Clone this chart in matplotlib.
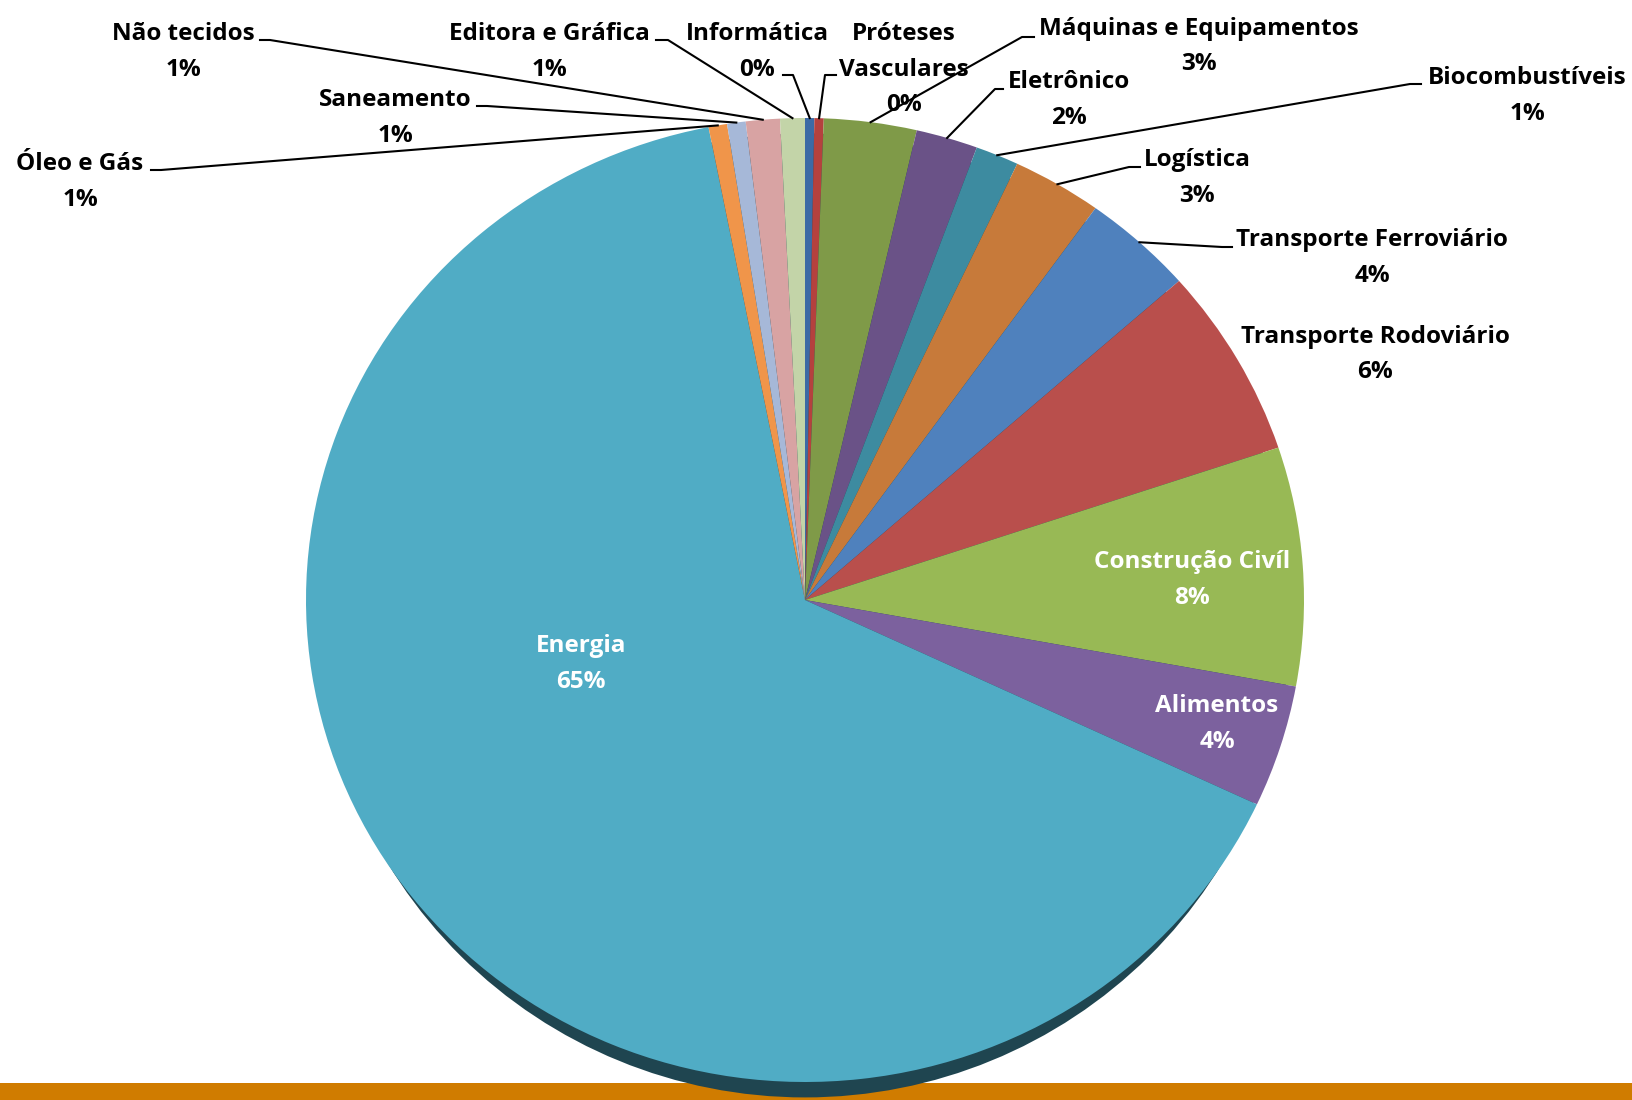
import matplotlib
matplotlib.use('Agg')
import matplotlib.pyplot as plt
import numpy as np
from matplotlib.patches import Ellipse, Rectangle

# sectors, clockwise from the top
sectors = ['Informática', 'Próteses Vasculares', 'Máquinas e Equipamentos', 'Eletrônico',
           'Biocombustíveis', 'Logística', 'Transporte Ferroviário', 'Transporte Rodoviário',
           'Construção Civíl', 'Alimentos', 'Energia', 'Óleo e Gás', 'Saneamento',
           'Não tecidos', 'Editora e Gráfica']
shares = [0.3, 0.3, 3.0, 2.0, 1.4, 2.9, 3.6, 6.4, 8.0, 4.1, 65.0, 0.6, 0.6, 1.1, 0.8]

colors = ['#3c6aa5', '#b5413e', '#7f9a48', '#6a5287', '#3d8ba0', '#c77a3a', '#4f81bd',
          '#b94f4c', '#98b955', '#7c619e', '#50acc5', '#f0954a', '#a6b8d8', '#d8a3a3', '#c3d4a8']

# label layout in pixels: (centre x, first line y)
label_xy = [(757, 34), (904, 34), (1199, 29), (1069, 82), (1527, 78), (1197, 160),
            (1372, 240), (1375, 337), (1192, 562), (1217, 706), (581, 646),
            (80, 164), (395, 100), (183, 34), (549, 34)]
# leader lines: (label side point, elbow point), None = no leader
leaders = [((783, 75), (793, 75)), ((836, 75), (825, 75)), ((1034, 37), (1022, 37)),
           ((1003, 89), (995, 89)), ((1421, 84), (1410, 84)), ((1140, 167), (1129, 167)),
           ((1232, 247), (1222, 247)), None, None, None, None,
           ((151, 170), (161, 170)), ((477, 106), (487, 106)), ((260, 40), (270, 40)),
           ((656, 40), (668, 40))]
inside = ['Construção Civíl', 'Alimentos', 'Energia']

W, H = 1632, 1100
cx, cy, rx, ry = 805, 600, 499, 482

fig = plt.figure(figsize=(W / 100, H / 100), dpi=100)

# background band
bg = fig.add_axes([0, 0, 1, 1], zorder=0)
bg.set_xlim(0, W)
bg.set_ylim(H, 0)
bg.axis('off')
bg.add_patch(Rectangle((0, 1083), W, 20, color='#d07c00', lw=0))

# pie (elliptical)
pax = fig.add_axes([(cx - rx) / W, (H - cy - ry) / H, 2 * rx / W, 2 * ry / H], zorder=1)
pax.add_patch(Ellipse((0, -0.032), 1.95, 2, color='#1f4550', lw=0, clip_on=False))
wedges, _ = pax.pie(shares, colors=colors, startangle=90, counterclock=False,
                    radius=1, wedgeprops=dict(linewidth=0))
for w in wedges:
    w.set_clip_on(False)
pax.set_aspect('auto')
pax.set_xlim(-1, 1)
pax.set_ylim(-1, 1)
pax.axis('off')

# labels
tax = fig.add_axes([0, 0, 1, 1], zorder=2)
tax.set_xlim(0, W)
tax.set_ylim(H, 0)
tax.axis('off')

total = sum(shares)
step = 35.5
font = dict(family='Open Sans', weight='bold', fontsize=17.5)
for i, name in enumerate(sectors):
    lines = ['Próteses', 'Vasculares'] if name == 'Próteses Vasculares' else [name]
    lines = lines + ['%.0f%%' % (shares[i] / total * 100)]
    tc = 'white' if name in inside else 'black'
    x0, y0 = label_xy[i]
    for k, t in enumerate(lines):
        tax.text(x0, y0 + k * step, t, ha='center', va='center', color=tc, **font)
    if leaders[i] is not None:
        w = wedges[i]
        th = np.deg2rad((w.theta1 + w.theta2) / 2)
        px = cx + rx * np.cos(th)
        py = cy - ry * np.sin(th)
        (lx, ly), (ex, ey) = leaders[i]
        tax.plot([lx, ex, px], [ly, ey, py], color='black', lw=1.5)

fig.savefig('out.png', dpi=100)
